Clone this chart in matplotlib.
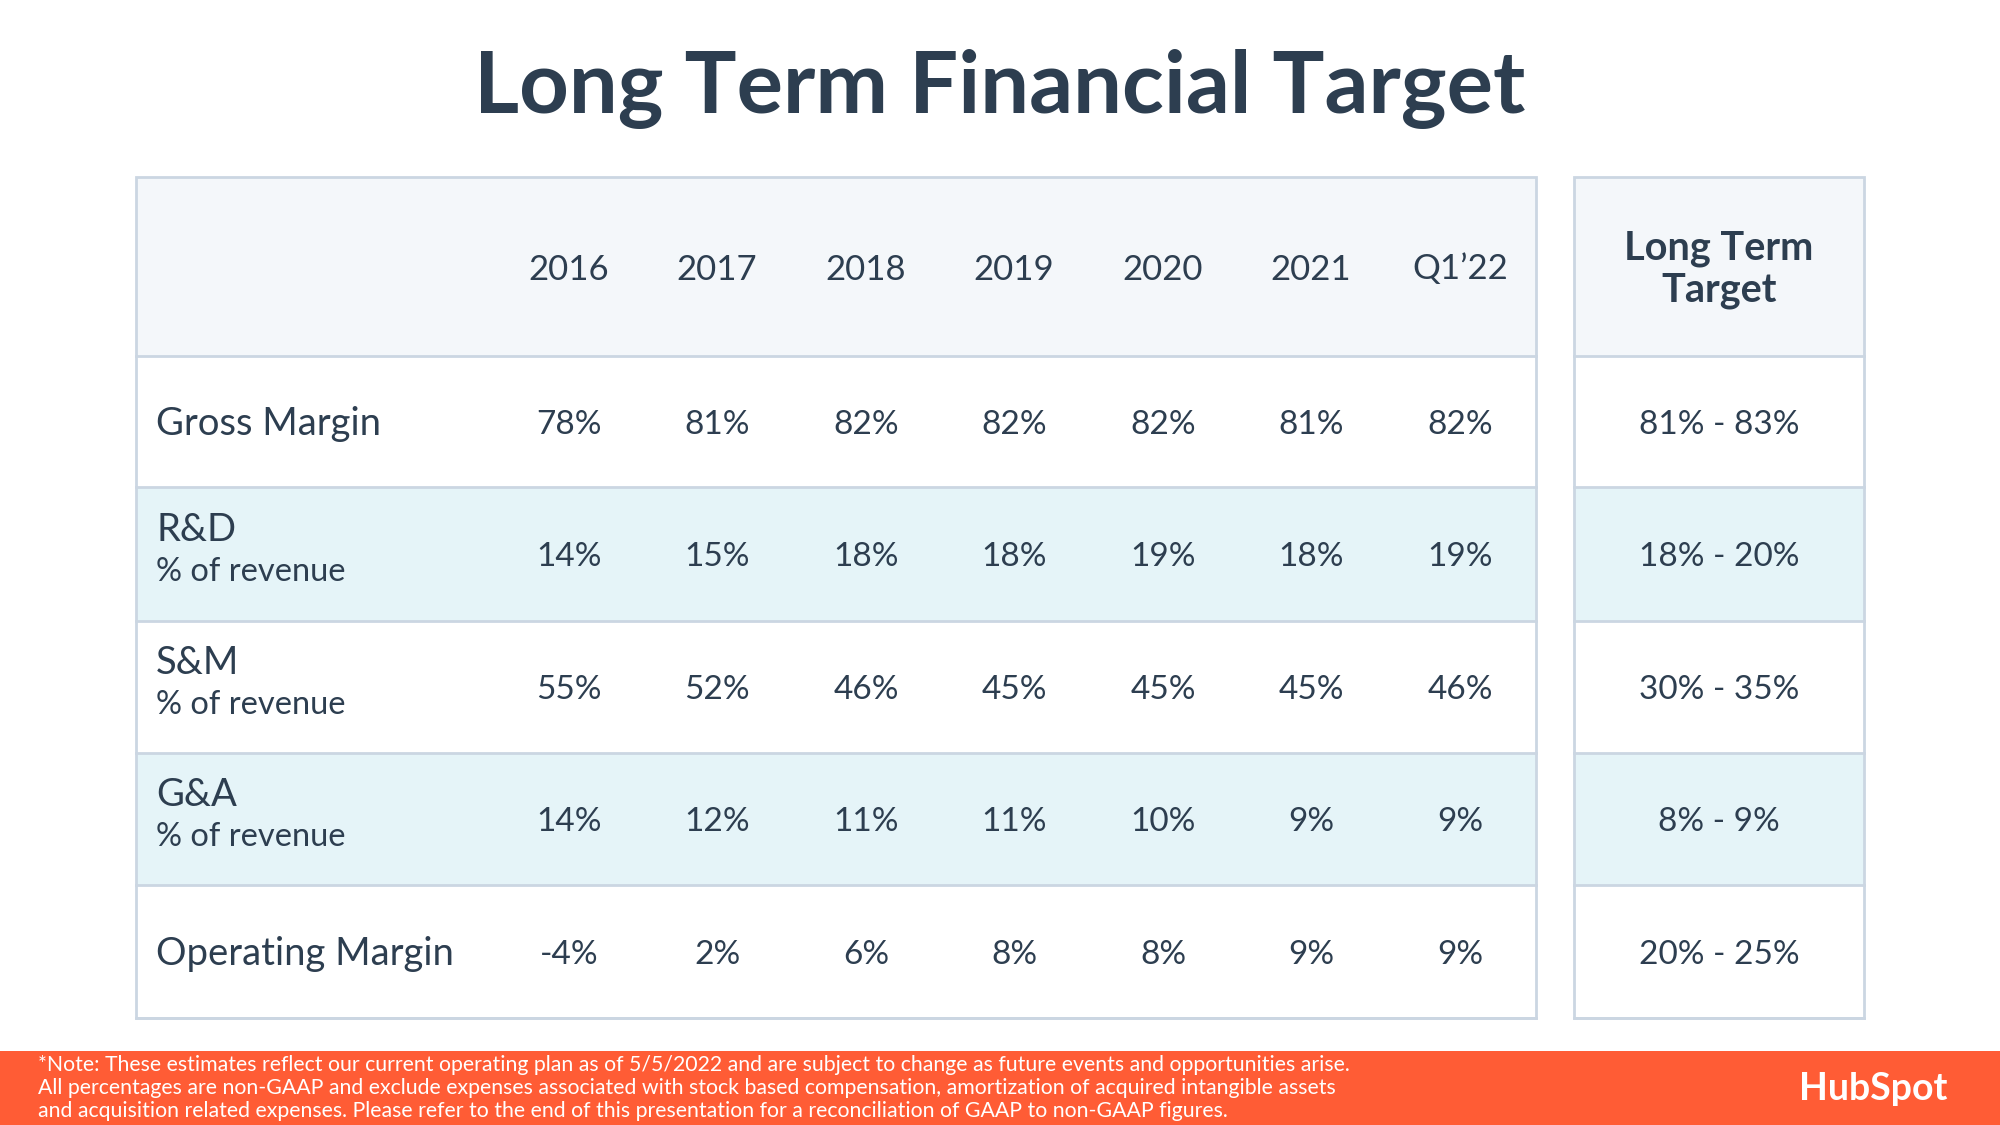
import matplotlib.pyplot as plt
from matplotlib.patches import Rectangle

# table content
years = ['2016', '2017', '2018', '2019', '2020', '2021', 'Q1\u201922']
row_names = ['Gross Margin', 'R&D', 'S&M', 'G&A', 'Operating Margin']
row_subs = ['', '% of revenue', '% of revenue', '% of revenue', '']
values = [
    ['78%', '81%', '82%', '82%', '82%', '81%', '82%'],
    ['14%', '15%', '18%', '18%', '19%', '18%', '19%'],
    ['55%', '52%', '46%', '45%', '45%', '45%', '46%'],
    ['14%', '12%', '11%', '11%', '10%', '9%', '9%'],
    ['-4%', '2%', '6%', '8%', '8%', '9%', '9%'],
]
targets = ['81% - 83%', '18% - 20%', '30% - 35%', '8% - 9%', '20% - 25%']
target_head = 'Long Term\nTarget'
note = ('*Note: These estimates reflect our current operating plan as of 5/5/2022 and are subject to change as future events and opportunities arise.\n'
        'All percentages are non-GAAP and exclude expenses associated with stock based compensation, amortization of acquired intangible assets\n'
        'and acquisition related expenses. Please refer to the end of this presentation for a reconciliation of GAAP to non-GAAP figures.')

navy = '#2d3e50'
border = '#cbd6e2'
head_bg = '#f4f7fa'
blue_bg = '#e5f4f8'
orange = '#ff5c35'
font = 'Lato'

W, H = 2000, 1125
fig = plt.figure(figsize=(20, 11.25), dpi=100)
ax = fig.add_axes([0, 0, 1, 1])
ax.set_xlim(0, W)
ax.set_ylim(H, 0)
ax.axis('off')

# layout (pixels)
tx0, tx1 = 136, 1536
rx0, rx1 = 1574, 1864
row_edges = [177, 356, 487, 621, 753, 885, 1018]
col_x = [569, 717, 866, 1014, 1163, 1311, 1460]
label_x = 156
rc = (rx0 + rx1) / 2
dy = 3  # nudge text down a little

ax.text(W / 2, 89, 'Long Term Financial Target', ha='center', va='center',
        fontsize=62.5, fontweight='bold', color=navy, family=font)

for i in range(len(row_edges) - 1):
    y0, y1 = row_edges[i], row_edges[i + 1]
    if i == 0:
        bg = head_bg
    elif i % 2 == 0:
        bg = blue_bg
    else:
        bg = 'white'
    for x0, x1 in [(tx0, tx1), (rx0, rx1)]:
        ax.add_patch(Rectangle((x0, y0), x1 - x0, y1 - y0, facecolor=bg,
                               edgecolor='none', zorder=1))
    for x0, x1 in [(tx0, tx1), (rx0, rx1)]:
        ax.plot([x0, x1], [y1, y1], color=border, lw=2, zorder=2)

for x0, x1 in [(tx0, tx1), (rx0, rx1)]:
    ax.add_patch(Rectangle((x0, row_edges[0]), x1 - x0, row_edges[-1] - row_edges[0],
                           facecolor='none', edgecolor=border, lw=2, zorder=3))

# header
hc = (row_edges[0] + row_edges[1]) / 2 + dy
for x, yr in zip(col_x, years):
    ax.text(x, hc, yr, ha='center', va='center', fontsize=25, color=navy, family=font)
ax.text(rc, hc, target_head, ha='center', va='center', fontsize=28.5, fontweight='bold',
        color=navy, family=font, linespacing=1.13)

# body
for i, name in enumerate(row_names):
    yc = (row_edges[i + 1] + row_edges[i + 2]) / 2 + dy
    if row_subs[i]:
        ax.text(label_x, yc - 27, name, ha='left', va='center', fontsize=27.5, color=navy, family=font)
        ax.text(label_x, yc + 15, row_subs[i], ha='left', va='center', fontsize=23.5, color=navy, family=font)
    else:
        ax.text(label_x, yc, name, ha='left', va='center', fontsize=27.5, color=navy, family=font)
    for x, v in zip(col_x, values[i]):
        ax.text(x, yc, v, ha='center', va='center', fontsize=24, color=navy, family=font)
    ax.text(rc, yc, targets[i], ha='center', va='center', fontsize=24, color=navy, family=font)

# footer band
ax.add_patch(Rectangle((0, 1051), W, H - 1051, facecolor=orange, edgecolor='none', zorder=1))
ax.text(38, 1088, note, ha='left', va='center', fontsize=15.3, color='white',
        family=font, linespacing=1.2, zorder=4)
ax.text(1873, 1089, 'HubSpot', ha='center', va='center', fontsize=27, fontweight='bold',
        color='white', family=font, zorder=4)

fig.savefig('out.png', dpi=100, facecolor='white')
